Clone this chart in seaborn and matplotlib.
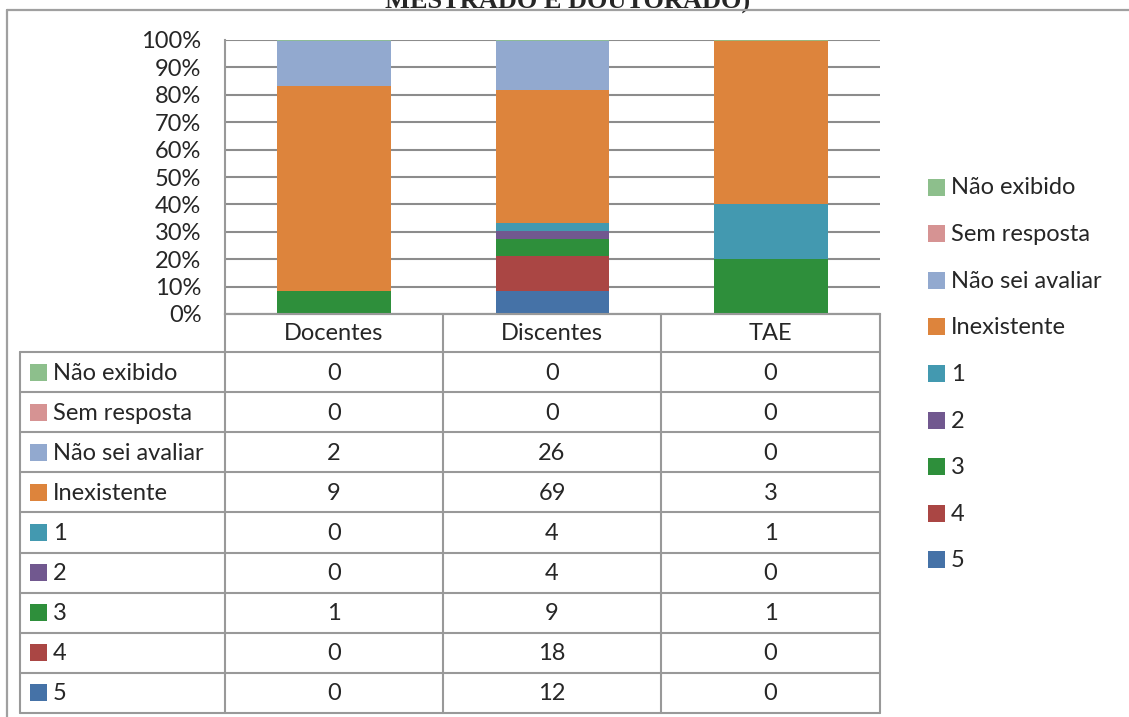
import numpy as np
import pandas as pd
import matplotlib
matplotlib.use("Agg")
import matplotlib.pyplot as plt
import seaborn as sns

# ---- data ----
categories = ["Docentes", "Discentes", "TAE"]
series_names = ["Não exibido", "Sem resposta", "Não sei avaliar", "Inexistente",
                "1", "2", "3", "4", "5"]
nao_exibido = [0, 0, 0]
sem_resposta = [0, 0, 0]
nao_sei_avaliar = [2, 26, 0]
inexistente = [9, 69, 3]
nota_1 = [0, 4, 1]
nota_2 = [0, 4, 0]
nota_3 = [1, 9, 1]
nota_4 = [0, 18, 0]
nota_5 = [0, 12, 0]
y_tick_labels = ["0%", "10%", "20%", "30%", "40%", "50%", "60%", "70%", "80%", "90%", "100%"]
title_text = "MESTRADO E DOUTORADO)"

series_values = [nao_exibido, sem_resposta, nao_sei_avaliar, inexistente,
                 nota_1, nota_2, nota_3, nota_4, nota_5]
colors = ["#8dbf8c", "#d69393", "#92a9cf", "#dd843c", "#4399b0",
          "#71588f", "#2e8f3b", "#aa4644", "#4572a7"]

sns.set_style("white")
plt.rcParams["font.family"] = ["Lato", "DejaVu Sans"]
FS = 17

W, H = 1129, 717
fig = plt.figure(figsize=(W / 100, H / 100), dpi=100)

# pixel layout
px_left, px_right = 225, 880
px_top, px_zero = 40, 314
ax = fig.add_axes([px_left / W, 1 - px_zero / H, (px_right - px_left) / W, (px_zero - px_top) / H])

totals = np.sum(np.array(series_values), axis=0).astype(float)
# stack bottom->top: 5,4,3,2,1,Inexistente,Não sei avaliar,Sem resposta,Não exibido
bottom = np.zeros(len(categories))
for name, vals, col in reversed(list(zip(series_names, series_values, colors))):
    pct = np.array(vals, dtype=float) / totals
    df = pd.DataFrame({"cat": categories, "pct": pct})
    if name == "Não exibido":
        extra = dict(edgecolor=col, linewidth=1.2)
    else:
        extra = dict(linewidth=0)
    sns.barplot(data=df, x="cat", y="pct", order=categories, color=col,
                width=0.52, bottom=bottom, errorbar=None, ax=ax,
                saturation=1, zorder=3, **extra)
    bottom = bottom + pct

ax.set_xlim(-0.5, 2.5)
ax.set_ylim(0, 1)
ax.set_yticks(np.linspace(0, 1, 11))
ax.set_yticklabels(y_tick_labels, fontsize=FS)
ax.set_xticks([])
ax.set_xlabel("")
ax.set_ylabel("")
ax.tick_params(axis="y", length=0, pad=17)
ax.yaxis.grid(True, color="#8c8c8c", linewidth=1.5, zorder=0)
ax.set_axisbelow(True)
for s in ["top", "right"]:
    ax.spines[s].set_visible(False)
for s in ["left", "bottom"]:
    ax.spines[s].set_color("#999999")
    ax.spines[s].set_linewidth(1.5)
ax.set_facecolor("none")

# ---- overlay for table, legend, frame ----
ov2 = fig.add_axes([0, 0, 1, 1], zorder=5)
ov2.set_xlim(0, W)
ov2.set_ylim(H, 0)
ov2.axis("off")
ov2.patch.set_alpha(0)

lc = "#999999"
lw = 1.5
# outer frame (left and top)
ov2.plot([7, 7], [10, H + 5], color="#a0a0a0", lw=1.6, clip_on=False)
ov2.plot([7, W + 5], [10, 10], color="#a0a0a0", lw=1.6, clip_on=False)

# title (clipped at top, as in the source page)
fig.text(568 / W, 1 - 9 / H, title_text, ha="center", va="baseline",
         fontsize=19, fontweight="bold", family="Liberation Serif")

# table geometry
col_x = [225, 443, 661, 880]
label_left = 20
header_top, header_bot = 314, 352
row_h = 40.1
n_rows = len(series_names)
row_edges = [header_bot + i * row_h for i in range(n_rows + 1)]
table_bottom = row_edges[-1]

for x in col_x:
    ov2.plot([x, x], [header_top, table_bottom], color=lc, lw=lw)
ov2.plot([label_left, label_left], [header_bot, table_bottom], color=lc, lw=lw)
ov2.plot([col_x[0], col_x[-1]], [header_top, header_top], color=lc, lw=lw)
for y in row_edges:
    ov2.plot([label_left, col_x[-1]], [y, y], color=lc, lw=lw)

for i, c in enumerate(categories):
    ov2.text((col_x[i] + col_x[i + 1]) / 2, (header_top + header_bot) / 2 + 1, c,
             ha="center", va="center", fontsize=FS)

for r, (name, vals, col) in enumerate(zip(series_names, series_values, colors)):
    yc = (row_edges[r] + row_edges[r + 1]) / 2
    ov2.add_patch(plt.Rectangle((30, yc - 8.5), 17, 17, color=col, lw=0))
    ov2.text(53, yc + 1, name, ha="left", va="center", fontsize=FS)
    for i, v in enumerate(vals):
        ov2.text((col_x[i] + col_x[i + 1]) / 2, yc + 1, str(v),
                 ha="center", va="center", fontsize=FS)

# right legend
leg_y0 = 187
leg_dy = 46.6
for r, (name, col) in enumerate(zip(series_names, colors)):
    yc = leg_y0 + r * leg_dy
    ov2.add_patch(plt.Rectangle((928, yc - 8.5), 17, 17, color=col, lw=0))
    ov2.text(951, yc + 1, name, ha="left", va="center", fontsize=FS)

fig.savefig("out.png", dpi=100)
